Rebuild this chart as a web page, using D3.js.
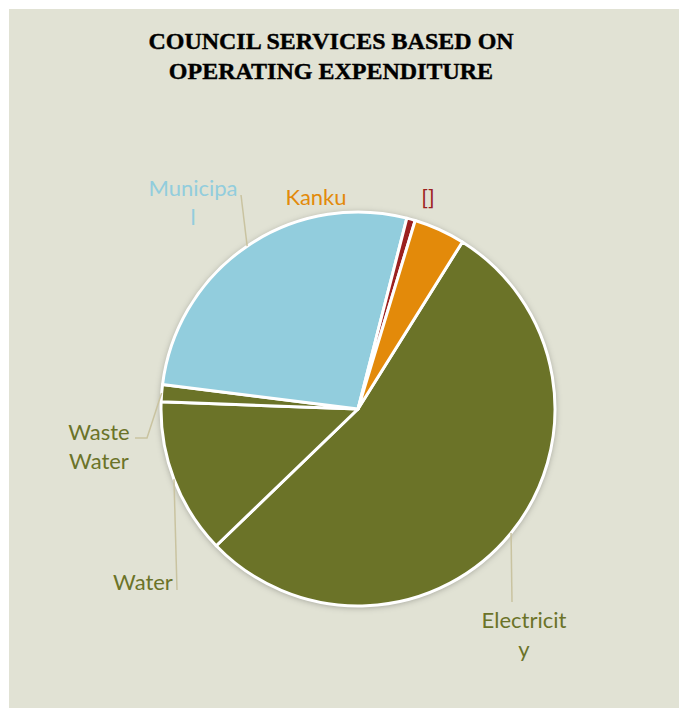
<!DOCTYPE html>
<html>
<head>
<meta charset="utf-8">
<script src="https://cdn.jsdelivr.net/npm/d3@7"></script>
<style>
  body { margin: 0; background: #ffffff; }
  svg { display: block; }
</style>
</head>
<body>
<div id="chart"></div>
<script>
// data (share of operating expenditure, %)
const categories = ["Electricity", "Water", "Waste Water", "Municipal", "[]", "Kanku"];
const values = [53.9, 12.8, 1.4, 27.0, 0.7, 4.2];
const colors = ["#6b7328", "#6b7328", "#6b7328", "#92cddd", "#9b2020", "#e38a0a"];
const labelLines = [["Electricit", "y"], ["Water"], ["Waste", "Water"], ["Municipa", "l"], ["[]"], ["Kanku"]];

const width = 679, height = 708;
const cx = 358, cy = 409, radius = 197;
const startDeg = 32;

// label placement (text anchor x, first baseline y, leader elbow/end points)
const labelLayout = {
  "Electricity": {x: 524, y: 628, leader: [[512, 602]]},
  "Water": {x: 143, y: 590, leader: [[177, 590]]},
  "Waste Water": {x: 99, y: 440, leader: [[147, 438], [135, 438]]},
  "Municipal": {x: 193, y: 196, leader: [[241, 195]]},
  "[]": {x: 428, y: 205, leader: null},
  "Kanku": {x: 316, y: 205, leader: null}
};

const svg = d3.select("#chart").append("svg")
  .attr("width", width)
  .attr("height", height);

svg.append("rect")
  .attr("x", 9).attr("y", 9)
  .attr("width", width - 9).attr("height", height - 9)
  .attr("fill", "#e1e2d4");

const defs = svg.append("defs");
const shadow = defs.append("filter").attr("id", "shadow")
  .attr("x", "-20%").attr("y", "-20%").attr("width", "140%").attr("height", "140%");
shadow.append("feDropShadow")
  .attr("dx", 0).attr("dy", 1)
  .attr("stdDeviation", 3.5)
  .attr("flood-color", "#000")
  .attr("flood-opacity", 0.35);

// title
svg.append("text")
  .attr("x", 331).attr("y", 49)
  .attr("text-anchor", "middle")
  .attr("font-family", "'Liberation Serif', serif")
  .attr("font-weight", "bold")
  .attr("font-size", 24)
  .attr("fill", "#000")
  .attr("stroke", "#000")
  .attr("stroke-width", 0.4)
  .selectAll("tspan")
  .data(["COUNCIL SERVICES BASED ON", "OPERATING EXPENDITURE"])
  .join("tspan")
  .attr("x", 331)
  .attr("dy", (d, i) => i === 0 ? 0 : 30)
  .text(d => d);

const data = categories.map((c, i) => ({name: c, value: values[i], color: colors[i], lines: labelLines[i]}));

const pie = d3.pie()
  .value(d => d.value)
  .sort(null)
  .startAngle(startDeg * Math.PI / 180)
  .endAngle(startDeg * Math.PI / 180 + 2 * Math.PI);

const arc = d3.arc().innerRadius(0).outerRadius(radius);
const arcs = pie(data);

const g = svg.append("g").attr("transform", `translate(${cx},${cy})`);

// shadow behind the pie
g.append("circle")
  .attr("r", radius)
  .attr("fill", "#ffffff")
  .attr("filter", "url(#shadow)");

g.selectAll("path.slice")
  .data(arcs)
  .join("path")
  .attr("class", "slice")
  .attr("d", arc)
  .attr("fill", d => d.data.color)
  .attr("stroke", "#ffffff")
  .attr("stroke-width", 3)
  .attr("stroke-linejoin", "round");

// leader lines from slice edge at mid-angle
arcs.forEach(a => {
  const lay = labelLayout[a.data.name];
  if (!lay.leader) return;
  const mid = (a.startAngle + a.endAngle) / 2;
  const p0 = [cx + radius * Math.sin(mid), cy - radius * Math.cos(mid)];
  const pts = [p0].concat(lay.leader);
  svg.append("path")
    .attr("d", d3.line()(pts))
    .attr("fill", "none")
    .attr("stroke", "#c9c3a0")
    .attr("stroke-width", 1.5);
});

// labels
arcs.forEach(a => {
  const lay = labelLayout[a.data.name];
  svg.append("text")
    .attr("x", lay.x).attr("y", lay.y)
    .attr("text-anchor", "middle")
    .attr("font-family", "Lato, 'Open Sans', sans-serif")
    .attr("font-size", 22)
    .attr("fill", a.data.color)
    .selectAll("tspan")
    .data(a.data.lines)
    .join("tspan")
    .attr("x", lay.x)
    .attr("dy", (d, i) => i === 0 ? 0 : 29)
    .text(d => d);
});
</script>
</body>
</html>
